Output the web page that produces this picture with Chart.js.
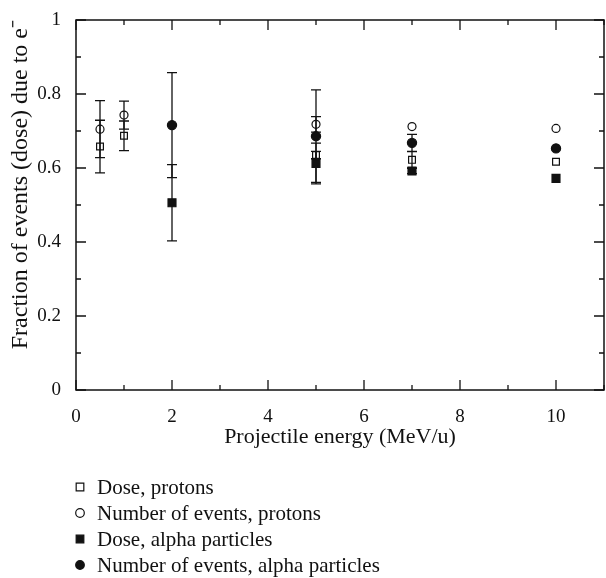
<!DOCTYPE html>
<html>
<head>
<meta charset="utf-8">
<script src="https://cdn.jsdelivr.net/npm/chart.js@4.4.1/dist/chart.umd.min.js"></script>
<style>
  html, body { margin: 0; padding: 0; background: #fff; }
  #wrap { width: 606px; height: 578px; }
</style>
</head>
<body>
<div id="wrap"><canvas id="chart" width="606" height="578"></canvas></div>
<script>
"use strict";

// --- Veri --------------------------------------------------------------------

const energyProtons = [0.5, 1, 5, 7, 10];
const energyAlpha = [2, 5, 7, 10];

const doseProtons = [0.658, 0.687, 0.635, 0.622, 0.617];
const doseProtonsErr = [0.071, 0.040, 0.010, 0.022, 0];
const eventsProtons = [0.705, 0.743, 0.718, 0.712, 0.707];
const eventsProtonsErr = [0.077, 0.038, 0.021, 0, 0];

const doseAlpha = [0.506, 0.612, 0.592, 0.572];
const doseAlphaErr = [0.103, 0.055, 0.007, 0];
const eventsAlpha = [0.716, 0.686, 0.668, 0.653];
const eventsAlphaErr = [0.142, 0.125, 0.023, 0];

const seriesLabels = [
  "Dose, protons",
  "Number of events, protons",
  "Dose, alpha particles",
  "Number of events, alpha particles",
];

const X_MAX = 11;
const FONT = "'Liberation Serif', 'Times New Roman', serif";
const INK = "#111";

const pts = (xs, ys) => xs.map((x, i) => ({ x, y: ys[i] }));

// --- Eklentiler --------------------------------------------------------------

// hata cubuklari, isaretlerin altinda
const errorBars = {
  id: "errorBars",
  beforeDatasetsDraw(chart) {
    const { ctx, scales: { x, y } } = chart;
    ctx.save();
    ctx.strokeStyle = INK;
    ctx.lineWidth = 1.3;
    chart.data.datasets.forEach((ds) => {
      ds.data.forEach((p, i) => {
        const e = ds.errors[i];
        if (!e) return;
        const px = x.getPixelForValue(p.x);
        const top = y.getPixelForValue(p.y + e);
        const bot = y.getPixelForValue(p.y - e);
        ctx.beginPath();
        ctx.moveTo(px, top); ctx.lineTo(px, bot);
        ctx.moveTo(px - 5, top); ctx.lineTo(px + 5, top);
        ctx.moveTo(px - 5, bot); ctx.lineTo(px + 5, bot);
        ctx.stroke();
      });
    });
    ctx.restore();
  },
};

// cerceve + iceri bakan tikler
const frameTicks = {
  id: "frameTicks",
  afterDraw(chart) {
    const { ctx, chartArea: a, scales: { x, y } } = chart;
    ctx.save();
    ctx.strokeStyle = INK;
    ctx.lineWidth = 1.5;
    ctx.strokeRect(a.left, a.top, a.right - a.left, a.bottom - a.top);
    ctx.lineWidth = 1.3;
    ctx.beginPath();
    for (let v = 0; v <= X_MAX; v++) {
      const px = x.getPixelForValue(v);
      const len = v % 2 === 0 ? 10 : 5;
      ctx.moveTo(px, a.bottom); ctx.lineTo(px, a.bottom - len);
      ctx.moveTo(px, a.top); ctx.lineTo(px, a.top + len);
    }
    for (let k = 0; k <= 10; k++) {
      const py = y.getPixelForValue(k / 10);
      const len = k % 2 === 0 ? 10 : 5;
      ctx.moveTo(a.left, py); ctx.lineTo(a.left + len, py);
      ctx.moveTo(a.right, py); ctx.lineTo(a.right - len, py);
    }
    ctx.stroke();
    ctx.restore();
  },
};

// alt taraftaki dikey lejant
const stackedLegend = {
  id: "stackedLegend",
  afterDraw(chart) {
    const { ctx } = chart;
    ctx.save();
    ctx.font = `21px ${FONT}`;
    ctx.textBaseline = "middle";
    chart.data.datasets.forEach((ds, i) => {
      const cy = 487 + i * 26;
      ctx.strokeStyle = INK;
      ctx.fillStyle = ds.pointBackgroundColor;
      ctx.lineWidth = 1.2;
      Chart.helpers.drawPoint(ctx, {
        pointStyle: ds.pointStyle, radius: ds.pointStyle === "rect" ? 5.4 : 4.3,
        rotation: 0, borderWidth: 1.2,
      }, 80, cy);
      ctx.fillStyle = INK;
      ctx.fillText(ds.label, 97, cy + 1);
    });
    ctx.restore();
  },
};

// --- Grafik ------------------------------------------------------------------

const mk = (label, xs, ys, errs, style, filled, r) => ({
  label,
  data: pts(xs, ys),
  errors: errs,
  pointStyle: style,
  pointRadius: r,
  pointHoverRadius: r,
  pointBorderWidth: 1.2,
  pointBorderColor: INK,
  pointBackgroundColor: filled ? INK : "rgba(0,0,0,0)",
  showLine: false,
});

const noPad = (s) => { s.paddingLeft = 0; s.paddingRight = 0; s.paddingTop = 0; s.paddingBottom = 0; };

new Chart(document.getElementById("chart"), {
  type: "scatter",
  data: {
    datasets: [
      mk(seriesLabels[0], energyProtons, doseProtons, doseProtonsErr, "rect", false, 4.8),
      mk(seriesLabels[1], energyProtons, eventsProtons, eventsProtonsErr, "circle", false, 4),
      mk(seriesLabels[2], energyAlpha, doseAlpha, doseAlphaErr, "rect", true, 5.6),
      mk(seriesLabels[3], energyAlpha, eventsAlpha, eventsAlphaErr, "circle", true, 4.6),
    ],
  },
  options: {
    responsive: false,
    animation: false,
    devicePixelRatio: 1,
    layout: { autoPadding: false, padding: { left: 0, top: 20, right: 606 - 604, bottom: 128 } },
    plugins: { legend: { display: false }, tooltip: { enabled: false } },
    scales: {
      x: {
        type: "linear", min: 0, max: X_MAX,
        grid: { display: false }, border: { display: false },
        ticks: {
          stepSize: 2, padding: 8, color: INK, font: { family: FONT, size: 19 },
          callback: (v) => (v <= 10 ? v : ""),
        },
        title: {
          display: true, text: "Projectile energy (MeV/u)", color: INK,
          font: { family: FONT, size: 22 }, padding: { top: 0, bottom: 0 },
        },
        afterFit: (s) => { s.height = 60; noPad(s); },
      },
      y: {
        type: "linear", min: 0, max: 1,
        grid: { display: false }, border: { display: false },
        ticks: {
          stepSize: 0.2, padding: 7, color: INK, font: { family: FONT, size: 19 },
          callback: (v) => Number(v.toFixed(2)).toString(),
        },
        title: {
          display: true, text: "Fraction of events (dose) due to e\u207B", color: INK,
          align: "end", font: { family: FONT, size: 24 }, padding: { top: 6, bottom: 0 },
        },
        afterFit: (s) => { s.width = 76; noPad(s); },
      },
    },
  },
  plugins: [errorBars, frameTicks, stackedLegend],
});
</script>
</body>
</html>
